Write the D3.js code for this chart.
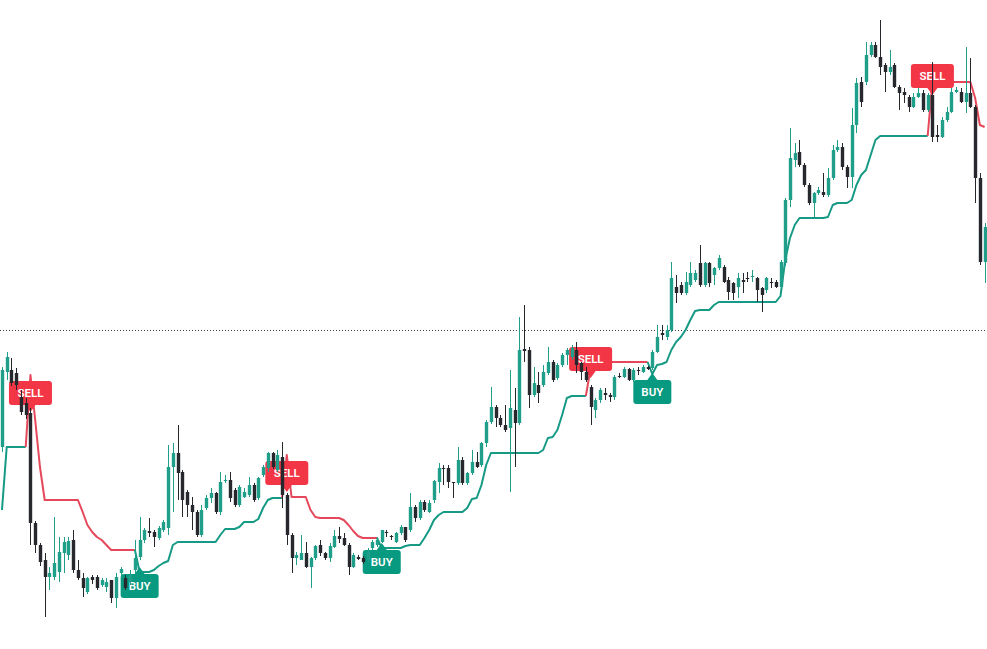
<!DOCTYPE html>
<html><head><meta charset="utf-8">
<script src="https://cdn.jsdelivr.net/npm/d3@7"></script>
<style>html,body{margin:0;padding:0;background:#fff;overflow:hidden}</style>
</head><body><svg id="chart" width="987" height="649"></svg>
<script>
const openPrices = [203,278,280,277,253,247,237,127,105,90,
73,73,78,97,95,110,80,72,58,73,
73,65,63,70,52,77,72,68,80,93,
110,119,118,112,120,122,183,197,178,158,
145,138,115,142,152,157,138,169,170,160,
145,153,155,165,152,175,182,197,180,193,
155,115,92,90,97,83,92,105,97,92,
103,114,112,105,83,93,92,90,102,105,
108,118,114,108,117,123,120,143,132,148,
138,150,168,182,182,168,167,190,167,177,
188,185,207,228,243,232,225,222,240,227,
301,300,255,265,265,277,288,272,285,295,
293,300,287,278,263,240,250,257,255,253,
274,273,281,270,280,278,283,282,298,317,
313,320,363,365,357,365,370,387,365,387,
375,382,383,370,367,363,370,372,373,372,
362,360,368,368,363,387,450,490,498,485,
465,447,457,458,455,472,500,503,483,473,
525,568,568,595,605,593,585,578,585,563,
558,553,543,553,557,540,555,515,513,530,
538,558,558,548,557,543,472,388];
const highPrices = [283,298,292,282,260,252,242,129,107,97,
83,133,113,113,113,120,90,77,73,75,
75,72,72,70,77,83,75,80,110,133,
122,132,120,124,130,205,207,225,180,160,
153,140,145,155,162,158,178,175,178,162,
165,162,173,167,173,185,198,198,200,208,
157,117,98,115,108,93,105,110,98,107,
120,123,117,107,97,95,94,102,110,113,
120,120,115,118,125,123,157,145,150,150,
150,170,187,185,185,168,203,193,178,200,
198,208,230,263,245,235,245,280,262,333,
345,303,283,278,285,303,290,287,297,302,
305,308,288,283,265,252,262,262,257,275,
277,283,282,282,283,285,284,300,325,325,
325,388,375,368,378,388,380,405,388,388,
383,395,385,373,368,377,377,378,380,373,
363,373,372,370,390,452,522,507,510,487,
467,458,463,477,482,505,510,507,485,542,
572,573,608,608,608,630,587,600,587,565,
562,555,557,562,560,557,588,525,533,543,
562,563,562,603,592,545,477,427];
const lowPrices = [198,270,264,260,235,231,105,97,84,33,
60,70,68,77,90,77,70,53,56,66,
60,63,58,47,42,73,60,65,77,90,
107,113,103,110,118,115,138,150,133,133,
120,113,113,140,147,136,135,167,148,143,
143,152,153,148,150,173,178,181,178,142,
105,77,85,90,82,62,90,94,90,88,
102,107,104,75,82,90,86,88,100,103,
107,113,110,107,115,108,118,128,130,138,
137,147,157,165,162,152,165,165,165,175,
182,183,203,226,223,223,218,158,183,225,
288,242,253,247,263,275,268,270,283,285,
290,277,270,268,225,232,247,250,248,250,
272,272,269,268,275,277,280,280,297,310,
310,318,347,355,355,363,368,363,363,363,
365,380,367,350,350,352,357,368,368,348,
338,357,362,362,362,384,443,483,483,463,
445,433,455,453,453,470,498,480,462,462,
517,543,565,593,592,575,558,575,562,540,
547,538,542,552,538,538,508,508,512,528,
537,557,547,537,542,447,385,367];
const closePrices = [280,293,267,265,238,235,127,105,88,73,
77,87,98,108,109,80,72,62,72,70,
62,70,68,52,73,81,62,75,92,110,
120,117,113,122,128,183,197,177,150,145,
138,115,140,152,157,138,168,170,152,145,
163,158,165,150,172,183,197,183,195,155,
115,92,95,97,83,92,104,97,92,104,
114,111,105,83,95,91,88,98,108,110,
120,117,113,117,123,110,143,132,148,140,
147,169,182,181,168,167,190,167,177,188,
183,207,228,243,232,225,220,242,227,300,
299,255,267,257,278,288,270,285,295,300,
302,285,278,270,243,250,260,255,253,273,
273,281,270,280,279,283,281,298,313,315,
320,372,357,357,368,377,377,365,387,367,
382,392,368,358,357,372,368,371,374,360,
355,372,367,363,388,450,492,497,485,465,
447,457,460,455,472,500,503,483,473,525,
567,548,595,605,593,583,578,583,563,557,
555,543,553,557,540,555,513,513,530,538,
558,560,548,557,543,472,388,423];
const supertrend = [140,203,203,203,203,203,275,230,183,150,
150,150,150,150,150,150,150,138,125,118,
113,110,105,100,100,100,100,100,100,78,
78,78,80,84,87,89,105,108,108,108,
108,108,108,108,108,108,115,121,121,121,
123,128,128,128,131,142,150,152,152,152,
195,153,153,153,153,140,133,132,132,132,
132,132,130,125,119,114,112,112,112,112,
102,102,102,102,102,104,105,105,105,112,
120,130,135,138,138,138,138,138,142,151,
152,165,185,197,197,197,197,197,197,197,
197,197,197,197,200,212,213,220,235,252,
254,254,254,254,282,288,288,288,288,288,
288,288,288,288,288,288,288,276,285,286,
288,300,308,313,320,330,339,340,340,340,
345,348,348,348,348,348,348,348,348,348,
348,348,348,348,354,390,412,425,432,432,
432,432,432,432,433,445,447,447,447,450,
465,475,480,495,510,514,514,514,514,514,
514,514,514,514,514,514,568,568,568,568,
568,568,568,568,568,552,525,523];
const sellSignals = [6, 60, 124, 196];
const sellLabelLevels = [238, 158, 272, 555];
const buySignals = [29, 80, 137];
const buyLabelLevels = [83, 107, 277];
const referenceLevel = 320;
const buyText = "BUY", sellText = "SELL";

const upColor = "#1f9e89", downColor = "#26282e";
const stUpColor = "#179a85", stDownColor = "#e5485a";
const buyColor = "#089981", sellColor = "#f23645";

const svg = d3.select("#chart");
const n = closePrices.length;
const x = d3.scaleBand().domain(d3.range(n)).range([-0.4, 987]);
const y = d3.scaleLinear().domain([0, 650]).range([650, 0]);
const cx = i => x(i) + x.bandwidth() / 2;

// reference dotted line
svg.append("line")
  .attr("x1", 0).attr("x2", 987)
  .attr("y1", Math.round(y(referenceLevel)) + 0.5).attr("y2", Math.round(y(referenceLevel)) + 0.5)
  .attr("stroke", "#444").attr("stroke-width", 1).attr("stroke-dasharray", "1,2");

// trend direction from signals
const trend = [];
let t = 1;
for (let i = 0; i < n; i++) {
  if (sellSignals.includes(i)) t = -1;
  if (buySignals.includes(i)) t = 1;
  trend.push(t);
}
const runs = [];
let start = 0;
for (let i = 1; i <= n; i++) {
  if (i === n || trend[i] !== trend[start]) {
    runs.push({ dir: trend[start], idx: d3.range(start === 0 ? 0 : start - 1, i) });
    start = i;
  }
}
const line = d3.line().x(i => cx(i)).y(i => y(supertrend[i]));
svg.append("g").selectAll("path").data(runs).join("path")
  .attr("d", r => line(r.idx))
  .attr("fill", "none")
  .attr("stroke", r => r.dir > 0 ? stUpColor : stDownColor)
  .attr("stroke-width", 2)
  .attr("stroke-linejoin", "round");

// labels
const bh = 24, ph = 7, pw = 5, rr = 3;
function labelPath(tx, ty, bw, down) {
  const l = tx - bw / 2, r = tx + bw / 2;
  if (down) {
    const b = ty - ph, tp = b - bh;
    return `M${l + rr},${tp} H${r - rr} Q${r},${tp} ${r},${tp + rr} V${b - rr} Q${r},${b} ${r - rr},${b} H${tx + pw} L${tx},${ty} L${tx - pw},${b} H${l + rr} Q${l},${b} ${l},${b - rr} V${tp + rr} Q${l},${tp} ${l + rr},${tp} Z`;
  } else {
    const tp = ty + ph, b = tp + bh;
    return `M${l + rr},${tp} H${tx - pw} L${tx},${ty} L${tx + pw},${tp} H${r - rr} Q${r},${tp} ${r},${tp + rr} V${b - rr} Q${r},${b} ${r - rr},${b} H${l + rr} Q${l},${b} ${l},${b - rr} V${tp + rr} Q${l},${tp} ${l + rr},${tp} Z`;
  }
}
const labels = [
  ...sellSignals.map((s, k) => ({ i: s, level: sellLabelLevels[k], down: true, text: sellText, color: sellColor, w: 43 })),
  ...buySignals.map((s, k) => ({ i: s, level: buyLabelLevels[k], down: false, text: buyText, color: buyColor, w: 38 }))
];
const lg = svg.append("g").selectAll("g").data(labels).join("g");
lg.append("path")
  .attr("d", d => labelPath(cx(d.i), y(d.level), d.w, d.down))
  .attr("fill", d => d.color);
lg.append("text")
  .attr("x", d => cx(d.i))
  .attr("y", d => d.down ? y(d.level) - ph - bh / 2 : y(d.level) + ph + bh / 2)
  .attr("text-anchor", "middle")
  .attr("dominant-baseline", "central")
  .attr("fill", "#fff")
  .attr("font-family", "Roboto, 'Open Sans', sans-serif")
  .attr("font-size", 11.5)
  .attr("font-weight", 600)
  .text(d => d.text);

// candles
const bodyW = 3.4;
const cg = svg.append("g").selectAll("g").data(d3.range(n)).join("g");
cg.append("line")
  .attr("x1", i => Math.round(cx(i)) + 0.5).attr("x2", i => Math.round(cx(i)) + 0.5)
  .attr("y1", i => y(highPrices[i])).attr("y2", i => y(lowPrices[i]))
  .attr("stroke", i => closePrices[i] >= openPrices[i] ? upColor : downColor)
  .attr("stroke-width", 1);
cg.append("rect")
  .attr("x", i => Math.round(cx(i)) + 0.5 - bodyW / 2)
  .attr("width", bodyW)
  .attr("y", i => y(Math.max(openPrices[i], closePrices[i])))
  .attr("height", i => Math.max(1, Math.abs(y(openPrices[i]) - y(closePrices[i]))))
  .attr("fill", i => closePrices[i] >= openPrices[i] ? upColor : downColor);
</script>
</body></html>
